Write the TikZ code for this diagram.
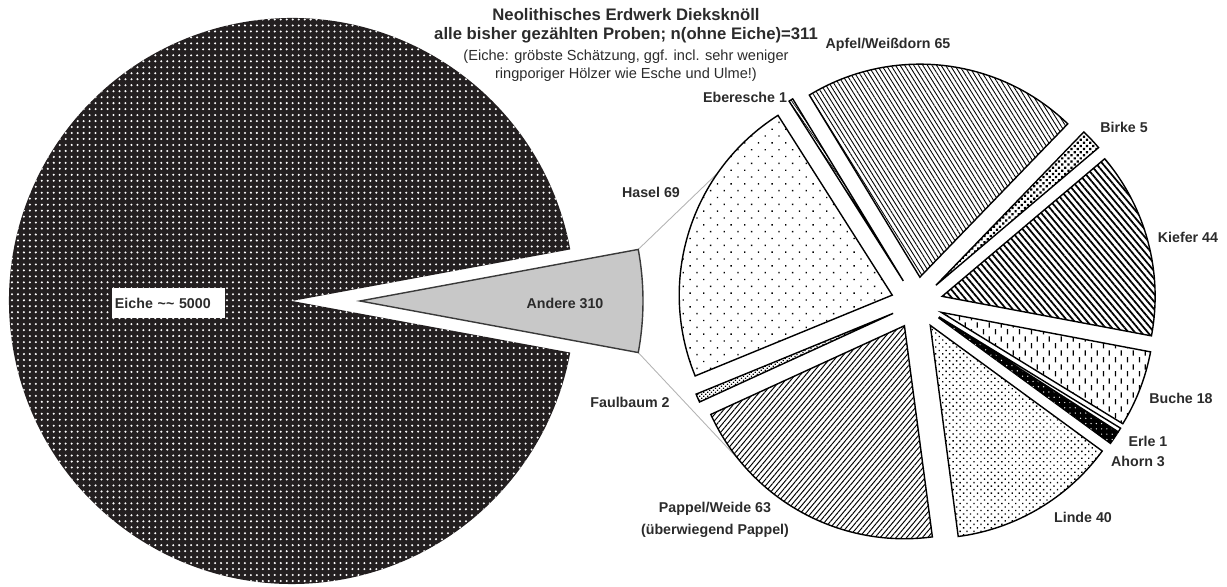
\documentclass[tikz,border=0pt]{standalone}
\usepackage{fontspec}
\setmainfont{Liberation Sans}
\usepackage{tikz}
\usetikzlibrary{calc, patterns, patterns.meta}

\definecolor{eichegrau}{HTML}{231F20}
\definecolor{anderegrau}{HTML}{C8C8C8}
\definecolor{randgrau}{HTML}{3A3A3A}
\definecolor{liniengrau}{HTML}{B4B4B4}
\definecolor{schrift}{HTML}{2B2B2B}

% senkrechte Striche (Buche)
\pgfdeclarepatternformonly{buchestriche}{\pgfqpoint{0pt}{0pt}}{\pgfqpoint{7pt}{8pt}}{\pgfqpoint{7pt}{8pt}}{
  \pgfpathrectangle{\pgfqpoint{0.5pt}{0.4pt}}{\pgfqpoint{0.75pt}{3.2pt}}
  \pgfpathrectangle{\pgfqpoint{4pt}{4.4pt}}{\pgfqpoint{0.75pt}{3.2pt}}
  \pgfusepath{fill}
}

% Tortenstueck der kleinen Torte: #1 Start, #2 Ende, #3 Stil
\newcommand{\stueck}[3]{%
  \pgfmathsetmacro{\stueckmitte}{(#1+#2)/2}
  \draw[#3] ($(C)+(\stueckmitte:26)$) -- ++(#1:213)
    arc[start angle=#1, end angle=#2, radius=213] -- cycle;
}

\tikzset{
  rand/.style={line width=0.8pt, draw=black},
  verbinder/.style={draw=liniengrau, line width=0.5pt},
  titel/.style={font=\bfseries\fontsize{9.5}{11}\selectfont, text=schrift, inner sep=0pt},
  untertitel/.style={font=\fontsize{8.3}{10}\selectfont, text=schrift, inner sep=0pt},
  beschriftung/.style={font=\bfseries\fontsize{8.1}{12.5}\selectfont, text=schrift, inner sep=0pt},
  hasel/.style={rand, pattern={Dots[radius=0.55pt, distance=5.5pt, angle=45]}},
  eberesche/.style={rand, pattern={Lines[angle=-55, distance=1.3pt, line width=0.4pt]}},
  apfel/.style={rand, pattern={Lines[angle=-58, distance=2.2pt, line width=0.5pt]}},
  birke/.style={rand, pattern={Dots[radius=0.9pt, distance=2.5pt, angle=45]}},
  kiefer/.style={rand, pattern={Lines[angle=-50, distance=2.8pt, line width=1pt]}},
  buche/.style={rand, pattern=buchestriche},
  erle/.style={rand, fill=white},
  ahorn/.style={rand, fill=black, postaction={pattern={Dots[radius=0.4pt, distance=3pt]}, pattern color=white}},
  linde/.style={rand, pattern={Dots[radius=0.55pt, distance=2.8pt, angle=45]}},
  pappel/.style={rand, pattern={Lines[angle=50, distance=2.3pt, line width=0.55pt]}},
  faulbaum/.style={rand, pattern={Dots[radius=0.5pt, distance=1.6pt, angle=45]}}
}

\begin{document}
\begin{tikzpicture}[x=0.02cm, y=0.02cm]
  \useasboundingbox (0,0) rectangle (1227,587);

  % Mittelpunkte
  \coordinate (E) at (292,286);
  \coordinate (A) at (360,286);
  \coordinate (C) at (917,284);

  % Verbindungslinien
  \coordinate (andere-oben) at ($(A)+(10.5:283)$);
  \coordinate (andere-unten) at ($(A)+(-10.5:283)$);
  \coordinate (hasel-rand) at ($(C)+(162.37:26)+(145:213)$);
  \coordinate (pappel-rand) at ($(C)+(-118.93:26)+(-140.7:213)$);
  \draw[verbinder] (andere-oben) -- (hasel-rand);
  \draw[verbinder] (andere-unten) -- (pappel-rand);

  % Grosse Torte: Eiche
  \fill[eichegrau, postaction={pattern={Dots[radius=0.65pt, distance=3.4pt]}, pattern color=white}]
    (E) -- ++(10.5:283) arc[start angle=10.5, end angle=349.5, radius=283] -- cycle;
  \node[beschriftung, fill=white, anchor=west, inner xsep=1.5pt, text width=2.15cm,
    minimum height=0.6cm] (eiche) at (112,284) {Eiche \textasciitilde\textasciitilde{} 5000};

  % Andere (herausgezogen)
  \draw[fill=anderegrau, draw=randgrau, line width=0.8pt]
    (A) -- ++(10.5:283) arc[start angle=10.5, end angle=-10.5, radius=283] -- cycle;
  \node[beschriftung] (andere) at (565,284) {Andere 310};

  % Kleine Torte
  \stueck{202.30}{122.43}{hasel}
  \stueck{122.43}{121.27}{eberesche}
  \stueck{121.27}{46.03}{apfel}
  \stueck{46.03}{40.24}{birke}
  \stueck{40.24}{-10.69}{kiefer}
  \stueck{-10.69}{-31.53}{buche}
  \stueck{-31.53}{-32.69}{erle}
  \stueck{-32.69}{-36.16}{ahorn}
  \stueck{-36.16}{-82.46}{linde}
  \stueck{-82.46}{-155.39}{pappel}
  \stueck{-155.39}{-157.70}{faulbaum}

  % Titel
  \node[titel, anchor=base] (titel1) at (626,566.3) {Neolithisches Erdwerk Dieksknöll};
  \node[titel, anchor=base] (titel2) at (626,547.5) {alle bisher gezählten Proben; n(ohne Eiche)=311};
  \node[untertitel, anchor=base] (titel3) at (626,526) {(Eiche: gröbste Schätzung, ggf. incl. sehr weniger};
  \node[untertitel, anchor=base] (titel4) at (626,508) {ringporiger Hölzer wie Esche und Ulme!)};

  % Beschriftungen
  \node[beschriftung] (l-hasel) at (651,395) {Hasel 69};
  \node[beschriftung] (l-eberesche) at (745,490) {Eberesche 1};
  \node[beschriftung] (l-apfel) at (888,542) {Apfel/Weißdorn 65};
  \node[beschriftung] (l-birke) at (1124,460) {Birke 5};
  \node[beschriftung] (l-kiefer) at (1188,350) {Kiefer 44};
  \node[beschriftung] (l-buche) at (1181,189) {Buche 18};
  \node[beschriftung] (l-erle) at (1148,146) {Erle 1};
  \node[beschriftung] (l-ahorn) at (1138,126) {Ahorn 3};
  \node[beschriftung] (l-linde) at (1083,70) {Linde 40};
  \node[beschriftung, align=center] (l-pappel) at (715,67) {Pappel/Weide 63\\(überwiegend Pappel)};
  \node[beschriftung] (l-faulbaum) at (630,185) {Faulbaum 2};
\end{tikzpicture}
\end{document}
